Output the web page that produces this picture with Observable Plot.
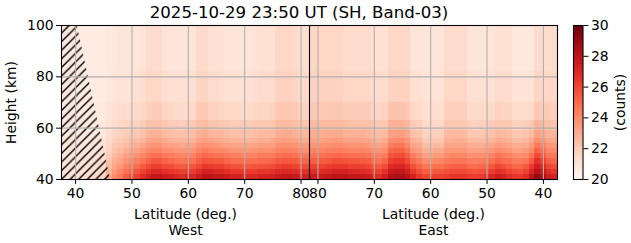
<!DOCTYPE html>
<html><head><meta charset="utf-8">
<script src="https://cdn.jsdelivr.net/npm/d3@7"></script>
<script src="https://cdn.jsdelivr.net/npm/@observablehq/plot@0.6"></script>
<style>
html,body{margin:0;padding:0;background:#fff;}
#chart{position:relative;width:631px;height:243px;overflow:hidden;}
#chart svg{position:absolute;top:0;}
</style></head><body><div id="chart"></div>
<script>
// ---------- data ----------
const titleText = "2025-10-29 23:50 UT (SH, Band-03)";
const westLat = [38,39,40,41,42,43,44,45,46,47,48,49,50,51,52,53,54,55,56,57,58,59,60,61,62,63,64,65,66,67,68,69,70,71,72,73,74,75,76,77,78,79,80,81];
const eastLat = [81,80,79,78,77,76,75,74,73,72,71,70,69,68,67,66,65,64,63,62,61,60,59,58,57,56,55,54,53,52,51,50,49,48,47,46,45,44,43,42,41,40,39,38];
const latEdges = [37.5, 81.5];
const heightEdges = [40,42,44,46,48,50,52,54,56,59,63,70,82,100];
const westTicks = [40,50,60,70,80];
const eastTicks = [80,70,60,50,40];
const heightTicks = [40,60,80,100];
const countTicks = [20,22,24,26,28,30];
const countDomain = [20,30];
// no-data (hatched) boundary on the West side
const maskHeight = [40, 100];
const maskLat = [46.2, 40.3];

// counts per height band (band start km), West columns 38..81
const west40 = [21.0,21.0,21.0,21.1,21.2,21.3,21.4,21.6,23.0,24.0,24.5,25.3,25.8,26.2,26.8,27.3,27.8,27.8,27.5,27.3,27.0,26.8,27.0,27.0,27.5,28.0,28.0,27.8,27.8,27.5,27.2,27.2,27.0,27.0,27.0,27.2,27.2,27.3,27.6,27.8,27.8,27.6,27.3,27.3];
const west42 = [21.0,21.0,21.0,21.0,21.1,21.2,21.3,21.5,22.7,23.6,24.1,24.8,25.2,25.6,26.1,26.6,27.0,27.0,26.7,26.5,26.3,26.1,26.3,26.3,26.8,27.2,27.2,27.0,27.0,26.7,26.4,26.4,26.3,26.3,26.3,26.5,26.5,26.6,26.9,27.0,27.0,26.9,26.6,26.6];
const west44 = [21.0,21.0,20.9,21.0,21.1,21.1,21.2,21.4,22.4,23.2,23.6,24.2,24.6,24.9,25.4,25.9,26.2,26.2,25.9,25.8,25.5,25.4,25.5,25.6,26.0,26.4,26.3,26.2,26.2,25.9,25.7,25.7,25.5,25.5,25.6,25.7,25.7,25.8,26.1,26.3,26.3,26.1,25.8,25.8];
const west46 = [20.9,20.9,20.9,20.9,21.0,21.0,21.1,21.2,22.2,22.9,23.2,23.7,24.0,24.3,24.7,25.1,25.5,25.5,25.2,25.0,24.8,24.7,24.8,24.8,25.3,25.6,25.5,25.4,25.4,25.1,24.9,24.9,24.8,24.8,24.8,25.0,25.0,25.1,25.4,25.5,25.5,25.4,25.1,25.1];
const west48 = [20.9,20.9,20.9,20.9,20.9,21.0,21.0,21.1,21.9,22.5,22.8,23.3,23.5,23.8,24.1,24.5,24.8,24.8,24.5,24.4,24.2,24.1,24.2,24.2,24.7,25.0,24.8,24.7,24.7,24.5,24.3,24.3,24.2,24.2,24.2,24.4,24.4,24.4,24.8,24.9,24.9,24.7,24.5,24.5];
const west50 = [20.9,20.9,20.8,20.8,20.9,20.9,21.0,21.1,21.7,22.2,22.5,22.9,23.1,23.3,23.6,24.0,24.2,24.2,23.9,23.8,23.6,23.6,23.6,23.7,24.1,24.4,24.2,24.1,24.1,23.9,23.7,23.7,23.6,23.6,23.7,23.8,23.8,23.9,24.2,24.3,24.3,24.2,23.9,23.9];
const west52 = [20.9,20.9,20.8,20.8,20.8,20.9,20.9,21.0,21.6,22.0,22.2,22.5,22.7,22.9,23.1,23.5,23.7,23.7,23.4,23.3,23.2,23.1,23.2,23.2,23.7,23.8,23.7,23.6,23.5,23.3,23.2,23.2,23.2,23.2,23.2,23.4,23.4,23.4,23.8,23.8,23.8,23.7,23.5,23.5];
const west54 = [20.9,20.9,20.8,20.8,20.8,20.8,20.8,20.9,21.4,21.8,22.0,22.2,22.4,22.5,22.7,23.1,23.3,23.3,23.0,22.8,22.7,22.7,22.7,22.8,23.2,23.4,23.2,23.1,23.0,22.9,22.8,22.8,22.7,22.7,22.8,22.9,22.9,23.0,23.3,23.4,23.4,23.3,23.0,23.0];
const west56 = [20.8,20.8,20.8,20.7,20.7,20.8,20.8,20.8,21.2,21.5,21.7,21.9,22.0,22.1,22.3,22.7,22.8,22.8,22.5,22.4,22.3,22.3,22.3,22.4,22.8,22.9,22.7,22.6,22.6,22.4,22.3,22.3,22.3,22.3,22.4,22.5,22.5,22.5,22.9,23.0,23.0,22.8,22.6,22.6];
const west59 = [20.8,20.8,20.7,20.7,20.7,20.7,20.7,20.8,21.1,21.3,21.5,21.6,21.7,21.7,21.9,22.3,22.3,22.3,22.0,21.9,21.9,21.8,21.9,22.0,22.4,22.5,22.2,22.2,22.1,22.0,21.9,21.9,21.9,21.9,22.0,22.1,22.1,22.1,22.5,22.5,22.5,22.4,22.2,22.2];
const west63 = [20.8,20.8,20.7,20.6,20.7,20.7,20.7,20.7,20.9,21.1,21.2,21.3,21.3,21.4,21.5,21.8,21.9,21.9,21.6,21.5,21.4,21.4,21.4,21.5,22.0,22.0,21.7,21.7,21.6,21.5,21.5,21.5,21.4,21.4,21.5,21.6,21.6,21.7,22.0,22.1,22.1,22.0,21.7,21.7];
const west70 = [20.8,20.8,20.7,20.6,20.6,20.6,20.6,20.6,20.8,20.9,21.0,21.0,21.0,21.1,21.2,21.5,21.5,21.5,21.2,21.1,21.1,21.1,21.1,21.2,21.6,21.6,21.3,21.3,21.2,21.1,21.1,21.1,21.1,21.1,21.2,21.3,21.3,21.3,21.7,21.7,21.7,21.6,21.4,21.4];
const west82 = [20.8,20.8,20.7,20.6,20.6,20.6,20.6,20.6,20.7,20.8,20.9,20.9,20.9,20.9,21.0,21.3,21.3,21.3,21.0,20.9,20.9,20.9,20.9,21.0,21.4,21.4,21.1,21.1,21.0,20.9,20.9,20.9,20.9,20.9,21.0,21.1,21.1,21.1,21.5,21.5,21.5,21.4,21.2,21.2];

// East columns 81..38
const east40 = [27.5,27.5,27.6,27.8,28.0,28.0,28.0,27.8,27.8,27.7,27.5,27.0,26.8,27.3,28.3,28.5,28.5,28.0,27.2,26.5,26.0,26.0,26.2,26.2,26.3,26.5,26.5,26.5,26.3,26.2,26.3,26.6,27.0,27.5,27.2,26.8,26.5,26.4,26.8,28.0,29.0,28.5,27.5,27.2];
const east42 = [26.8,26.8,26.9,27.0,27.2,27.2,27.2,27.0,27.0,26.9,26.8,26.3,26.1,26.6,27.6,27.8,27.8,27.3,26.4,25.8,25.3,25.3,25.5,25.5,25.7,25.9,25.9,25.9,25.7,25.6,25.7,25.9,26.3,26.7,26.5,26.1,25.8,25.7,26.1,27.1,28.2,27.7,26.8,26.5];
const east44 = [26.1,26.1,26.1,26.3,26.4,26.4,26.4,26.2,26.2,26.2,26.0,25.6,25.4,25.8,26.9,27.1,27.1,26.6,25.7,25.2,24.6,24.6,24.8,24.8,25.1,25.3,25.3,25.3,25.0,24.9,25.0,25.2,25.5,26.0,25.7,25.4,25.1,25.1,25.4,26.3,27.4,26.9,26.0,25.8];
const east46 = [25.3,25.3,25.4,25.5,25.7,25.7,25.6,25.5,25.5,25.4,25.3,24.9,24.7,25.1,26.2,26.4,26.4,25.9,24.9,24.5,23.9,23.9,24.1,24.1,24.5,24.6,24.6,24.6,24.4,24.3,24.4,24.5,24.8,25.2,24.9,24.8,24.5,24.4,24.6,25.4,26.6,26.1,25.3,25.1];
const east48 = [24.7,24.7,24.8,24.9,25.0,25.0,24.9,24.8,24.8,24.8,24.6,24.3,24.2,24.4,25.6,25.8,25.8,25.3,24.3,23.9,23.3,23.3,23.5,23.5,24.0,24.1,24.1,24.1,23.8,23.8,23.8,24.0,24.2,24.6,24.4,24.2,23.9,23.8,24.0,24.7,25.9,25.4,24.6,24.5];
const east50 = [24.2,24.2,24.2,24.3,24.4,24.4,24.3,24.2,24.2,24.2,24.1,23.8,23.7,23.9,25.0,25.2,25.2,24.7,23.7,23.4,22.8,22.8,23.0,23.0,23.6,23.6,23.6,23.6,23.3,23.3,23.3,23.5,23.6,24.0,23.8,23.7,23.4,23.3,23.5,24.0,25.2,24.8,24.1,24.0];
const east52 = [23.7,23.7,23.8,23.8,23.9,23.9,23.8,23.7,23.7,23.7,23.6,23.3,23.2,23.4,24.4,24.6,24.6,24.1,23.2,23.0,22.4,22.4,22.5,22.5,23.2,23.2,23.2,23.2,22.9,22.9,22.9,23.0,23.2,23.5,23.4,23.2,22.9,22.9,23.0,23.5,24.5,24.2,23.6,23.5];
const east54 = [23.3,23.3,23.3,23.4,23.5,23.5,23.3,23.3,23.3,23.2,23.2,22.9,22.8,23.0,23.9,24.0,24.0,23.6,22.8,22.6,22.0,22.0,22.1,22.1,22.8,22.9,22.9,22.9,22.5,22.5,22.5,22.6,22.7,23.0,22.9,22.8,22.5,22.5,22.6,23.0,23.9,23.6,23.2,23.1];
const east56 = [22.9,22.9,22.9,23.0,23.0,23.0,22.8,22.8,22.8,22.8,22.7,22.5,22.4,22.5,23.3,23.4,23.4,23.1,22.3,22.2,21.7,21.7,21.8,21.8,22.5,22.5,22.5,22.5,22.1,22.1,22.1,22.2,22.3,22.6,22.5,22.4,22.1,22.1,22.2,22.5,23.3,23.0,22.7,22.7];
const east59 = [22.5,22.5,22.5,22.5,22.5,22.5,22.4,22.3,22.3,22.3,22.3,22.0,22.0,22.1,22.8,22.8,22.8,22.6,21.9,21.8,21.4,21.4,21.5,21.5,22.1,22.1,22.1,22.1,21.8,21.7,21.8,21.8,21.9,22.1,22.1,22.0,21.7,21.7,21.8,22.0,22.7,22.5,22.3,22.2];
const east63 = [22.0,22.0,22.0,22.1,22.1,22.1,21.9,21.9,21.9,21.9,21.9,21.6,21.6,21.7,22.2,22.2,22.2,22.1,21.5,21.4,21.2,21.2,21.2,21.2,21.8,21.8,21.8,21.8,21.4,21.4,21.4,21.4,21.4,21.7,21.6,21.6,21.3,21.3,21.3,21.4,22.1,21.9,21.9,21.8];
const east70 = [21.7,21.7,21.7,21.7,21.7,21.7,21.5,21.5,21.5,21.5,21.5,21.3,21.3,21.3,21.7,21.7,21.7,21.7,21.1,21.1,21.0,21.0,21.0,21.0,21.5,21.5,21.5,21.5,21.1,21.1,21.1,21.1,21.1,21.3,21.3,21.3,21.0,21.0,21.0,21.0,21.6,21.5,21.5,21.5];
const east82 = [21.5,21.5,21.5,21.5,21.5,21.5,21.3,21.3,21.3,21.3,21.3,21.1,21.1,21.1,21.5,21.5,21.5,21.5,20.9,20.9,20.9,20.9,20.9,20.9,21.3,21.3,21.3,21.3,20.9,20.9,20.9,20.9,20.9,21.1,21.1,21.1,20.8,20.8,20.8,20.8,21.3,21.3,21.3,21.3];

// ---------- build ----------
const westRows = [west40,west42,west44,west46,west48,west50,west52,west54,west56,west59,west63,west70,west82];
const eastRows = [east40,east42,east44,east46,east48,east50,east52,east54,east56,east59,east63,east70,east82];
const span = latEdges[1] - latEdges[0];
const uWest = lat => lat - latEdges[0];
const uEast = lat => span + (latEdges[1] - lat);
const halfCell = 0.5;

const cells = [];
westRows.forEach((row, k) => row.forEach((v, j) =>
  cells.push({u: uWest(westLat[j]), h1: heightEdges[k], h2: heightEdges[k + 1], v})));
eastRows.forEach((row, k) => row.forEach((v, j) =>
  cells.push({u: uEast(eastLat[j]), h1: heightEdges[k], h2: heightEdges[k + 1], v})));

const xTicks = [...westTicks.map(uWest), ...eastTicks.map(uEast)];
const tickLabel = u => String(Math.round(u < span ? u + latEdges[0] : latEdges[1] - (u - span)));
const mask = maskHeight.map((h, i) => ({h, lat: maskLat[i]}));
const sideLabels = [
  {u: span / 2, t: "Latitude (deg.)", s: "West"},
  {u: span * 1.5, t: "Latitude (deg.)", s: "East"}
];

const FONT = "'DejaVu Sans', sans-serif";
const colorScale = {type: "linear", scheme: "reds", domain: countDomain};
const grid = {stroke: "#b0b0b0", strokeOpacity: 1, strokeWidth: 1.1};
const mid = {lineAnchor: "middle", textAnchor: "middle", fontSize: 13.9};

const main = Plot.plot({
  width: 631, height: 243,
  marginTop: 25, marginBottom: 64, marginLeft: 61, marginRight: 74,
  x: {domain: [0, 2 * span]},
  y: {domain: [heightTicks[0], heightTicks[heightTicks.length - 1]]},
  color: colorScale,
  style: {fontFamily: FONT, fontSize: "13.9px", background: "none", color: "black"},
  marks: [
    Plot.rect(cells, {x1: d => d.u - halfCell, x2: d => d.u + halfCell, y1: "h1", y2: "h2", fill: "v", shapeRendering: "crispEdges"}),
    Plot.areaX(mask, {y: "h", x1: uWest(latEdges[0]), x2: d => uWest(d.lat), fill: "url(#hatch)"}),
    Plot.gridX(xTicks, grid),
    Plot.gridY(heightTicks, grid),
    Plot.ruleX([span], {stroke: "black", strokeWidth: 1.1}),
    Plot.frame({stroke: "black", strokeWidth: 1.1}),
    Plot.axisX(xTicks, {tickFormat: tickLabel, tickSize: 4.9, tickPadding: 4, label: null, fontSize: 13.9}),
    Plot.axisY(heightTicks, {tickSize: 4.9, tickPadding: 3, label: null, fontSize: 13.9}),
    Plot.text(sideLabels, {x: "u", text: "t", frameAnchor: "bottom", dy: 35, ...mid}),
    Plot.text(sideLabels, {x: "u", text: "s", frameAnchor: "bottom", dy: 51.5, ...mid}),
    Plot.text(["Height (km)"], {text: d => d, frameAnchor: "left", rotate: -90, dx: -50.3, ...mid}),
    Plot.text([titleText], {text: d => d, frameAnchor: "top", dy: -13, dx: -10.5, ...mid, fontSize: 16.6})
  ]
});

const ns = "http://www.w3.org/2000/svg";
const defs = document.createElementNS(ns, "defs");
defs.innerHTML = '<pattern id="hatch" patternUnits="userSpaceOnUse" width="8.6" height="8.6">' +
  '<path d="M-1,1L1,-1M0,8.6L8.6,0M7.6,9.6L9.6,7.6" stroke="#000" stroke-width="1.4" fill="none"/></pattern>';
main.prepend(defs);
main.style.left = "0px";

const cbar = Plot.plot({
  width: 71, height: 243,
  marginTop: 25, marginBottom: 64, marginLeft: 13, marginRight: 48.5,
  x: {domain: [0, 1], axis: null},
  y: {domain: countDomain},
  color: colorScale,
  style: {fontFamily: FONT, fontSize: "13.9px", background: "none", color: "black", overflow: "visible"},
  marks: [
    Plot.rect(d3.range(countDomain[0], countDomain[1], 0.05), {x1: 0, x2: 1, y1: d => d, y2: d => d + 0.05, fill: d => d + 0.025, shapeRendering: "crispEdges"}),
    Plot.frame({stroke: "black", strokeWidth: 1.1}),
    Plot.axisY(countTicks, {anchor: "right", tickSize: 4.9, tickPadding: 3, label: null, fontSize: 13.9}),
    Plot.text(["(counts)"], {text: d => d, frameAnchor: "right", rotate: -90, dx: 38, ...mid})
  ]
});
cbar.style.left = "560px";

const root = document.getElementById("chart");
root.appendChild(main);
root.appendChild(cbar);
</script>
</body></html>
